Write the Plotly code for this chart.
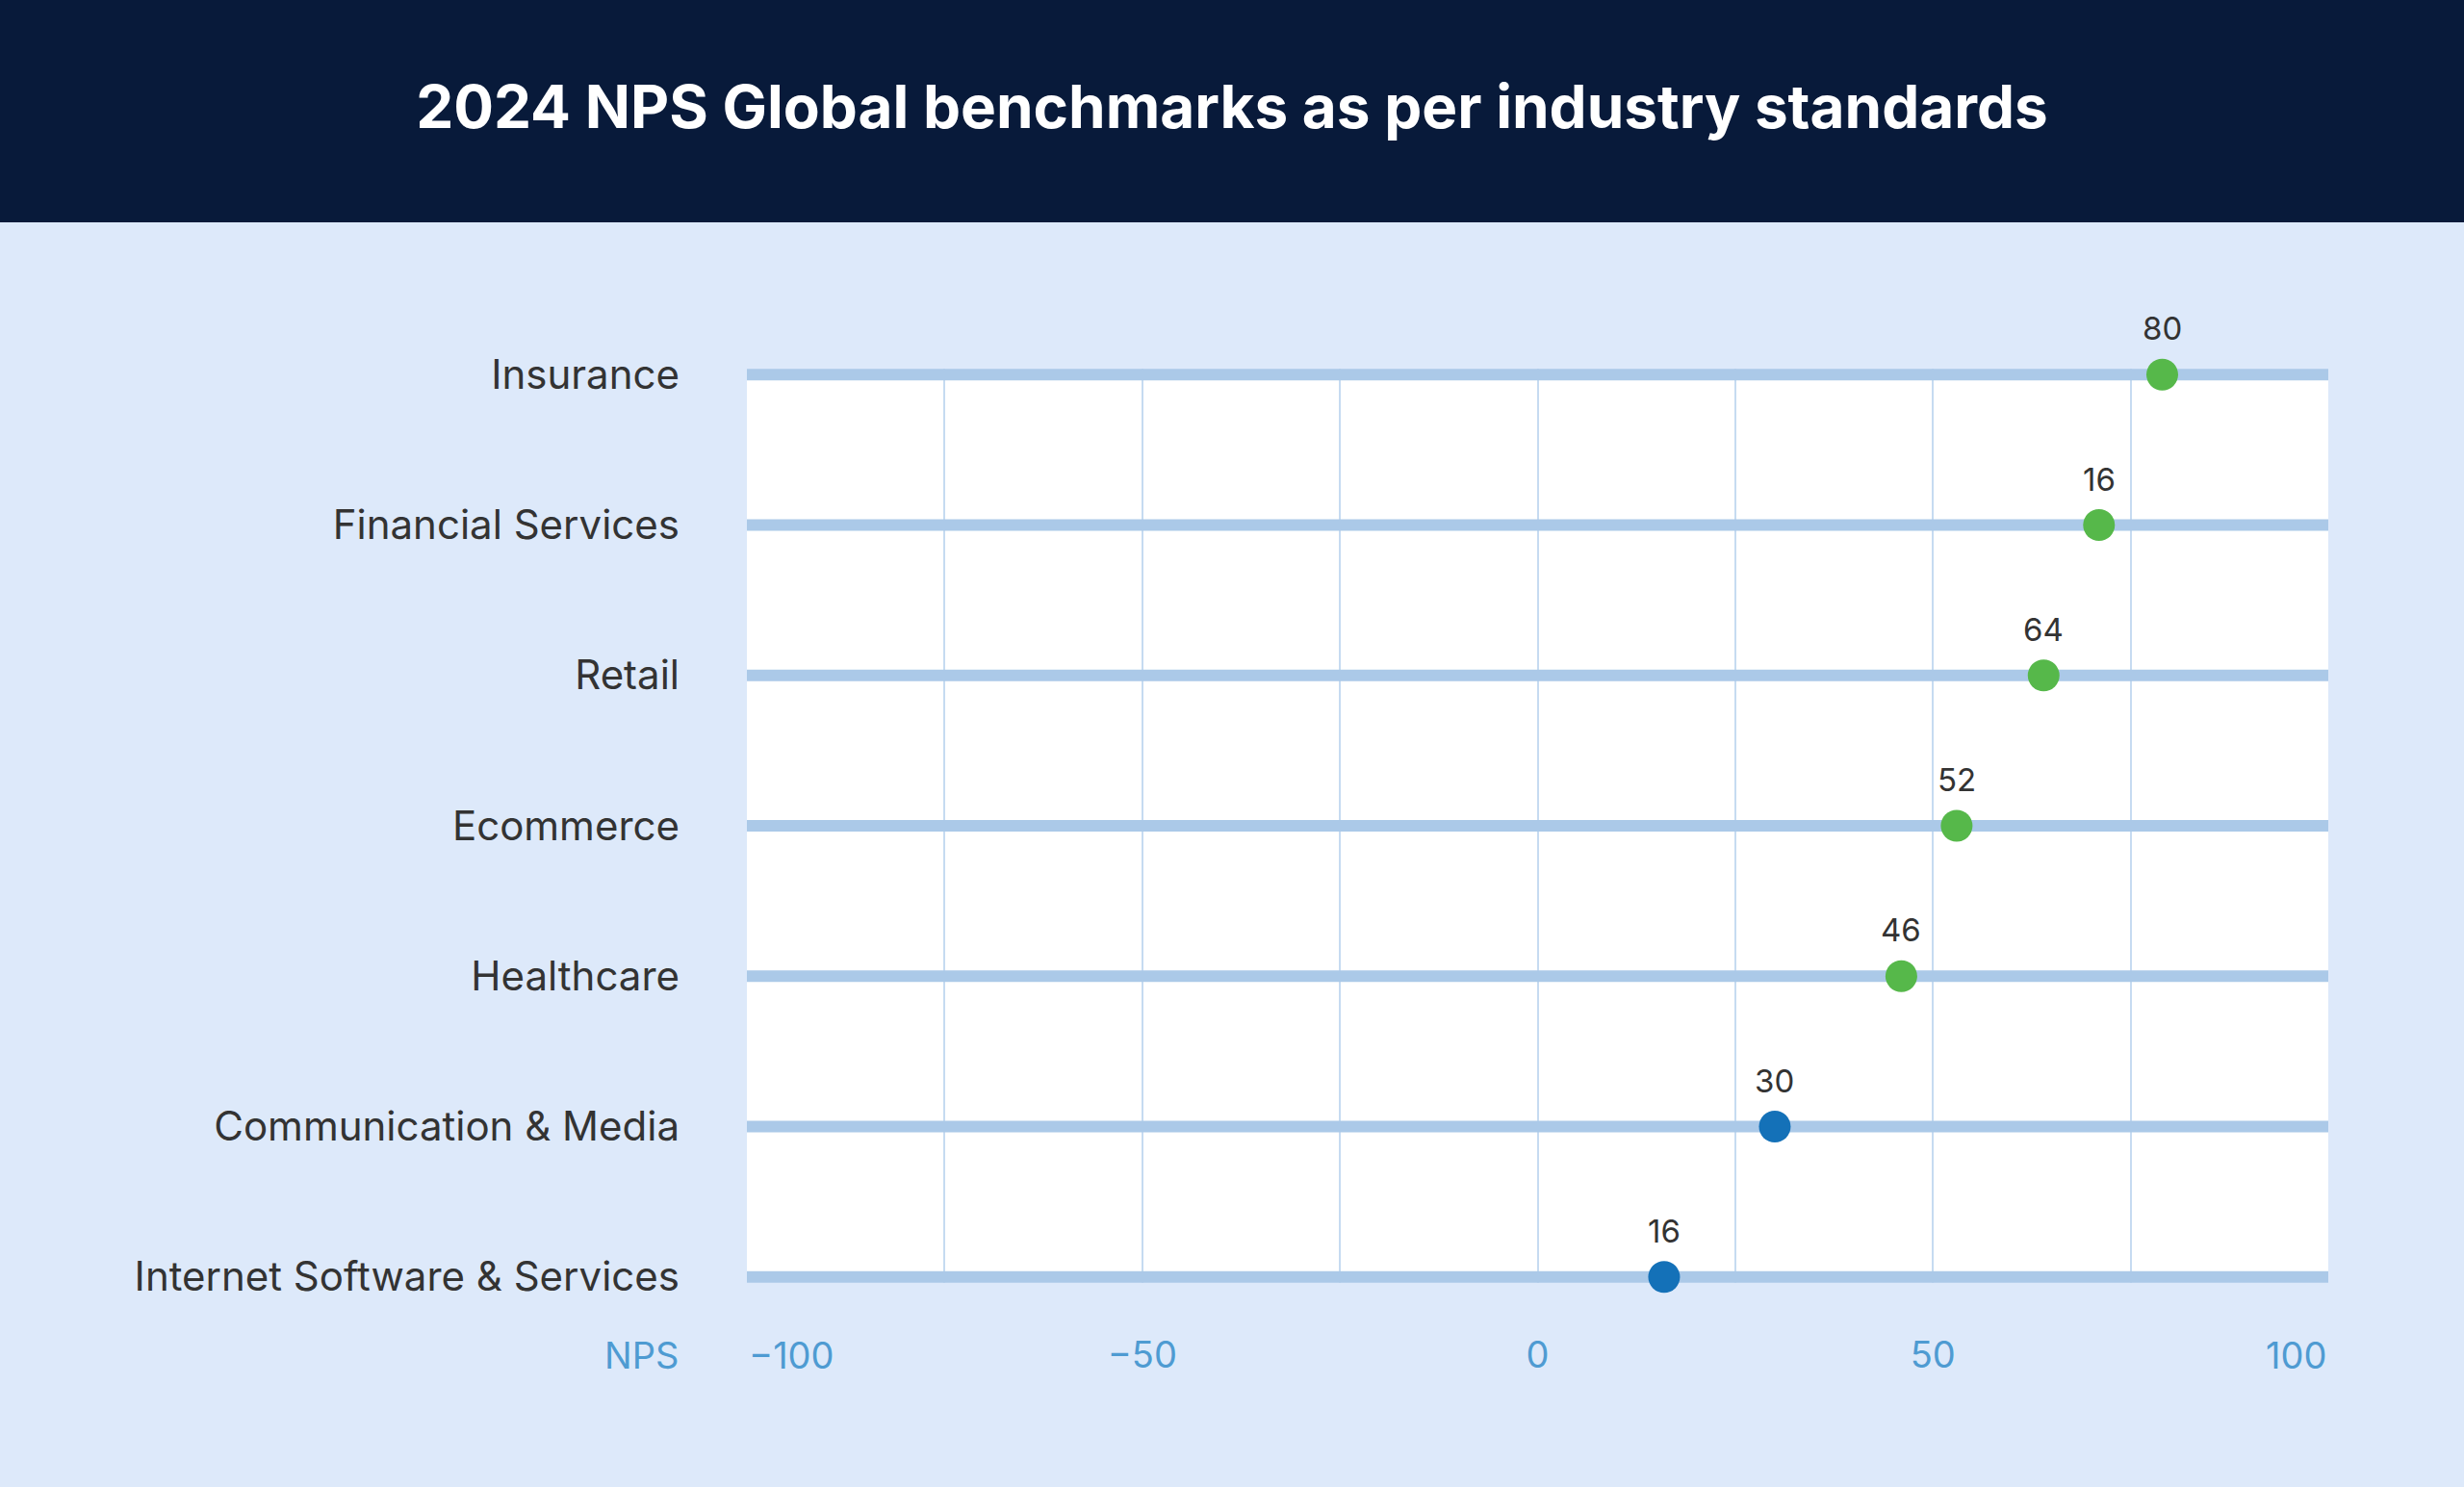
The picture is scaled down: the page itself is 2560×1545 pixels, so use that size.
import plotly.graph_objects as go

# ---- data ----
CATEGORIES = ["Insurance", "Financial Services", "Retail", "Ecommerce",
              "Healthcare", "Communication & Media", "Internet Software & Services"]
NPS_VALUES = [79, 71, 64, 53, 46, 30, 16]
VALUE_LABELS = ["80", "16", "64", "52", "46", "30", "16"]
POINT_GROUP = ["high", "high", "high", "high", "high", "mid", "mid"]
X_MIN, X_MAX = -100, 100
MAJOR_TICKS = [-50, 0, 50]
MINOR_GRID = [-75, -25, 25, 75]
TITLE = "2024 NPS Global benchmarks as per industry standards"
AXIS_LABEL = "NPS"

# ---- style ----
W, H = 2560, 1545
NAVY = "#081a3a"
PAPER = "#dde9fa"
TRACK = "#abc9e8"
GRID = "#c6dbf1"
GREEN = "#56b84a"
BLUE = "#1471b8"
TEXT = "#333333"
TICK = "#4e9bd2"
FONT = "Inter"
GROUP_COLOR = {"high": GREEN, "mid": BLUE}

fig = go.Figure()

# background tracks per category
for cat in CATEGORIES:
    fig.add_trace(go.Scatter(
        x=[X_MIN, X_MAX], y=[cat, cat], mode="lines",
        line=dict(color=TRACK, width=12), hoverinfo="skip",
        showlegend=False, cliponaxis=False))

# points
fig.add_trace(go.Scatter(
    x=NPS_VALUES, y=CATEGORIES, mode="markers",
    marker=dict(size=33, color=[GROUP_COLOR[g] for g in POINT_GROUP]),
    cliponaxis=False, showlegend=False))

# value labels
for v, c, t in zip(NPS_VALUES, CATEGORIES, VALUE_LABELS):
    fig.add_annotation(x=v, y=c, text=t, showarrow=False, yshift=48,
                       font=dict(family=FONT, size=33, color=TEXT))

# end tick labels and axis label
LBL_Y = -0.079
fig.add_annotation(x=X_MIN, y=LBL_Y, yref="paper", text=str(X_MIN).replace("-", "\u2212"),
                   showarrow=False, xanchor="left", yanchor="middle",
                   font=dict(family=FONT, size=38, color=TICK))
fig.add_annotation(x=X_MAX, y=LBL_Y, yref="paper", text=str(X_MAX),
                   showarrow=False, xanchor="right", yanchor="middle",
                   font=dict(family=FONT, size=38, color=TICK))
fig.add_annotation(x=-0.042, xref="paper", y=LBL_Y, yref="paper", text=AXIS_LABEL,
                   showarrow=False, xanchor="right", yanchor="middle",
                   font=dict(family=FONT, size=38, color=TICK))

# header band and white plot panel
fig.add_shape(type="rect", xref="paper", yref="paper", x0=-1, x1=2,
              y0=1 + (383 - 231) / 950, y1=2, fillcolor=NAVY, line_width=0, layer="below")
fig.add_shape(type="rect", xref="x", yref="y", x0=X_MIN, x1=X_MAX,
              y0=0, y1=len(CATEGORIES) - 1, fillcolor="white", line_width=0, layer="below")

n = len(CATEGORIES) - 1
fig.update_layout(
    width=W, height=H,
    paper_bgcolor=PAPER, plot_bgcolor=PAPER,
    margin=dict(l=776, r=141, t=383, b=212),
    title=dict(text=f"<b>{TITLE}</b>", x=0.5, xanchor="center", y=1 - 111 / H,
               yanchor="middle", font=dict(family=FONT, size=62, color="white")),
    font=dict(family=FONT),
    xaxis=dict(range=[X_MIN, X_MAX], tickvals=MAJOR_TICKS,
               ticktext=[str(t).replace("-", "\u2212") for t in MAJOR_TICKS],
               showgrid=True, gridcolor=GRID, gridwidth=2, zeroline=False,
               showline=False, ticks="", ticklabelstandoff=49,
               tickfont=dict(family=FONT, size=38, color=TICK),
               minor=dict(tickvals=MINOR_GRID, showgrid=True, gridcolor=GRID, gridwidth=2)),
    yaxis=dict(type="category", categoryorder="array", categoryarray=CATEGORIES,
               range=[n + 0.04, -0.04], showgrid=False, zeroline=False, showline=False,
               ticks="", ticklabelstandoff=69,
               tickfont=dict(family=FONT, size=42, color=TEXT)),
)

fig.write_html("out.html", config={"displayModeBar": False},
               post_script="document.body.style.margin='0';document.body.style.overflow='hidden';")
